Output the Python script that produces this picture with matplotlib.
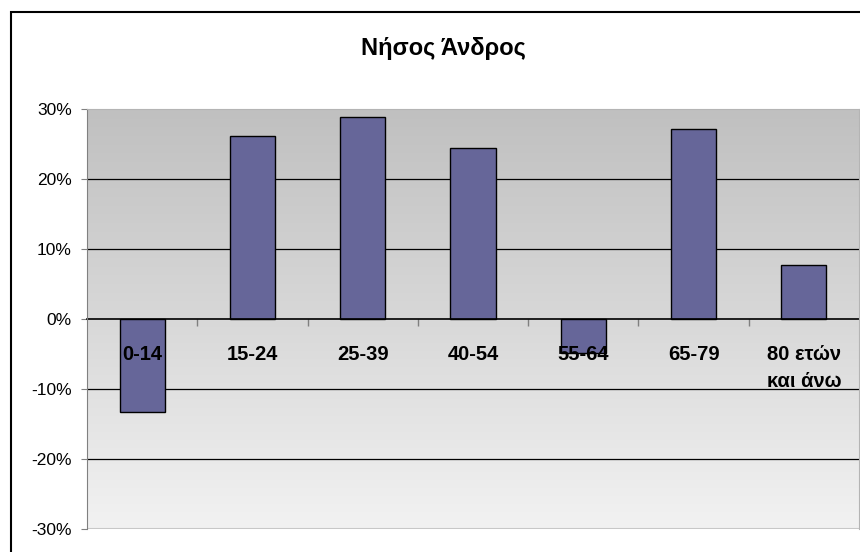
import matplotlib.pyplot as plt
import numpy as np
from matplotlib.patches import Rectangle
from matplotlib.colors import LinearSegmentedColormap
from matplotlib.ticker import FuncFormatter

plt.rcParams['font.family'] = ['Liberation Sans', 'DejaVu Sans']

# age groups and change in population share
groups = ["0-14", "15-24", "25-39", "40-54", "55-64", "65-79", "80 ετών\nκαι άνω"]
change = [-0.133, 0.261, 0.288, 0.244, -0.049, 0.272, 0.077]
title = "Νήσος Άνδρος"

W, H = 860, 552
fig = plt.figure(figsize=(W / 100, H / 100), dpi=100)

# outer chart border (runs off the right and bottom edges)
fig.patches.append(Rectangle((11 / W, -0.1), 1.2, (H - 12) / H + 0.1,
                             transform=fig.transFigure, fill=False,
                             edgecolor="black", linewidth=1.5))

left, right, top, bottom = 87, 859, 109, 529
ax = fig.add_axes([left / W, (H - bottom) / H, (right - left) / W, (bottom - top) / H])

x = np.arange(len(groups))

# gradient background, grey at top to near-white at bottom
grad = np.linspace(0, 1, 256).reshape(-1, 1)
bg = LinearSegmentedColormap.from_list("bg", ["#c0c0c0", "#d8d8d8", "#f2f2f2"])
ax.imshow(grad, cmap=bg, aspect="auto", origin="upper",
          extent=(-0.5, len(groups) - 0.5, -0.3, 0.3), zorder=0)
ax.set_xlim(-0.5, len(groups) - 0.5)
ax.set_ylim(-0.3, 0.3)

for g in [-0.2, -0.1, 0.1, 0.2]:
    ax.axhline(g, color="black", linewidth=0.9, zorder=0.5)

ax.bar(x, change, width=0.41, color="#666699", edgecolor="black",
       linewidth=1.0, zorder=1)

ax.spines["bottom"].set_position(("data", 0))
ax.spines["bottom"].set_color("black")
ax.spines["bottom"].set_linewidth(1.2)
ax.spines["bottom"].set_zorder(2)
ax.spines["left"].set_color("#808080")
ax.spines["top"].set_color("#b4b4b4")
ax.spines["right"].set_color("#b4b4b4")
ax.axhline(-0.3, color="#c8c8c8", linewidth=1.5, zorder=2)

ax.set_xticks(x)
ax.set_xticklabels(groups, fontsize=14.5, fontweight="bold", linespacing=1.55)
ax.set_xticks(x[:-1] + 0.5, minor=True)
ax.tick_params(axis="x", which="major", length=0, pad=18.5)
ax.tick_params(axis="x", which="minor", length=5, direction="out",
               color="#808080", width=1)

ax.set_yticks(np.arange(-0.3, 0.31, 0.1))
ax.yaxis.set_major_formatter(FuncFormatter(lambda v, p: f"{round(v * 100)}%"))
ax.tick_params(axis="y", length=4.5, pad=6.5, labelsize=12.5, color="#808080")

fig.text(443 / W, (H - 48) / H, title, ha="center", va="center",
         fontsize=17, fontweight="bold")

fig.savefig("out.png", dpi=100)
